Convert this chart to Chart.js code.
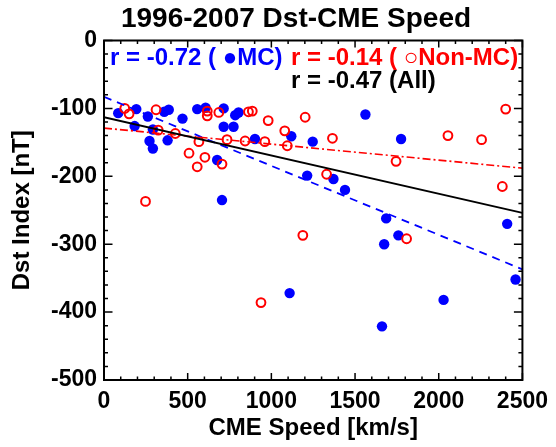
<!DOCTYPE html>
<html>
<head>
<meta charset="utf-8">
<script src="https://cdn.jsdelivr.net/npm/chart.js@4.4.1/dist/chart.umd.min.js"></script>
<style>
  body { margin: 0; background: #fff; }
  #wrap { width: 556px; height: 447px; }
</style>
</head>
<body>
<div id="wrap"><canvas id="dstChart"></canvas></div>
<script>
// MC events (filled blue)
const mcSpeed = [85, 193, 183, 262, 292, 272, 292, 360, 387, 380, 469, 557, 607, 715, 715, 774, 784, 804,
  676, 705, 902, 1119, 1247, 1214, 1562, 1775, 1371, 1440, 1109, 1686, 1759, 1674, 2409, 2459, 2029, 1661];
const mcDst = [-107, -101, -126, -112, -131, -148, -159, -105, -102, -147, -115, -101, -99, -100, -127, -127, -110, -106,
  -176, -235, -145, -141, -149, -199, -109, -145, -204, -220, -372, -262, -287, -300, -270, -352, -382, -421];

// Non-MC events (open red)
const nonMcSpeed = [124, 150, 311, 324, 426, 508, 557, 603, 567, 617, 617, 686, 705, 735, 843, 863, 886, 961,
  981, 1080, 1095, 1202, 1330, 248, 1365, 1745, 2055, 2256, 2400, 2380, 1188, 938, 1808];
const nonMcDst = [-100, -108, -102, -132, -137, -166, -186, -172, -149, -104, -111, -106, -182, -146, -148, -105, -104, -149,
  -118, -133, -155, -113, -197, -237, -144, -178, -140, -146, -101, -215, -287, -386, -292];

// linear fits (value at speed 0 and 2500)
const fitSpeed = [0, 2500];
const mcFit = [-83, -337];
const nonMcFit = [-129, -188];
const allFit = [-113, -254];

const xTicks = [0, 500, 1000, 1500, 2000, 2500];
const yTicks = [0, -100, -200, -300, -400, -500];

const FONT = "'Liberation Sans', Arial, Helvetica, sans-serif";

function pts(xs, ys) {
  return xs.map((x, i) => ({ x: x, y: ys[i] }));
}

// title, frame, inward ticks and the r-value labels
const framePlugin = {
  id: 'frame',
  afterDraw(chart) {
    const ctx = chart.ctx;
    const a = chart.chartArea;
    const xs = chart.scales.x, ys = chart.scales.y;
    ctx.save();
    ctx.strokeStyle = '#000';
    ctx.lineWidth = 1.5;
    ctx.beginPath();
    for (let v = 0; v <= 2500; v += 100) {
      const px = xs.getPixelForValue(v);
      const len = v % 500 === 0 ? 7 : 3.5;
      ctx.moveTo(px, a.bottom); ctx.lineTo(px, a.bottom - len);
      ctx.moveTo(px, a.top); ctx.lineTo(px, a.top + len);
    }
    for (let v = -500; v <= 0; v += 20) {
      const py = ys.getPixelForValue(v);
      const len = v % 100 === 0 ? 8.5 : 4;
      ctx.moveTo(a.left, py); ctx.lineTo(a.left + len, py);
      ctx.moveTo(a.right, py); ctx.lineTo(a.right - len, py);
    }
    ctx.stroke();
    ctx.lineWidth = 2;
    ctx.strokeRect(a.left, a.top, a.right - a.left, a.bottom - a.top);

    ctx.fillStyle = '#000';
    ctx.textAlign = 'center';
    ctx.textBaseline = 'middle';
    ctx.font = 'bold 28px ' + FONT;
    ctx.fillText('1996-2007 Dst-CME Speed', 296, 19);

    ctx.font = 'bold 24px ' + FONT;
    ctx.textAlign = 'left';
    ctx.fillStyle = '#0000ff';
    ctx.fillText('r = -0.72 ( \u25CFMC)', a.left + 6, a.top + 18);
    ctx.fillStyle = '#ff0000';
    ctx.fillText('r = -0.14 ( \u25CBNon-MC)', a.left + 187, a.top + 18);
    ctx.fillStyle = '#000';
    ctx.fillText('r = -0.47 (All)', a.left + 187, a.top + 41);
    ctx.restore();
  }
};

const ctx = document.getElementById('dstChart').getContext('2d');
new Chart(ctx, {
  type: 'scatter',
  data: {
    datasets: [
      {
        label: 'MC',
        data: pts(mcSpeed, mcDst),
        backgroundColor: '#0000ff',
        borderColor: '#0000ff',
        borderWidth: 0,
        pointRadius: 5.2,
        order: 5
      },
      {
        label: 'Non-MC',
        data: pts(nonMcSpeed, nonMcDst),
        backgroundColor: 'rgba(0,0,0,0)',
        borderColor: '#ff0000',
        borderWidth: 2,
        pointRadius: 4.4,
        order: 4
      },
      {
        type: 'line',
        label: 'MC fit',
        data: pts(fitSpeed, mcFit),
        borderColor: '#0000ff',
        borderWidth: 1.8,
        borderDash: [8, 6],
        pointRadius: 0,
        order: 3
      },
      {
        type: 'line',
        label: 'Non-MC fit',
        data: pts(fitSpeed, nonMcFit),
        borderColor: '#ff0000',
        borderWidth: 1.6,
        borderDash: [8, 3, 2, 3],
        pointRadius: 0,
        order: 2
      },
      {
        type: 'line',
        label: 'All fit',
        data: pts(fitSpeed, allFit),
        borderColor: '#000000',
        borderWidth: 1.8,
        pointRadius: 0,
        order: 1
      }
    ]
  },
  options: {
    responsive: true,
    maintainAspectRatio: false,
    animation: false,
    layout: { padding: { left: 0, right: 29, top: 40.5, bottom: 0 } },
    plugins: {
      legend: { display: false },
      tooltip: { enabled: false },
      title: { display: false }
    },
    scales: {
      x: {
        type: 'linear',
        min: 0,
        max: 2500,
        afterBuildTicks: s => { s.ticks = xTicks.map(v => ({ value: v })); },
        afterFit: s => { s.height = 67; },
        grid: { display: false, drawTicks: false },
        border: { display: false },
        ticks: {
          color: '#000',
          padding: 8,
          maxRotation: 0,
          callback: v => String(v),
          font: { family: FONT, size: 23, weight: 'bold' }
        },
        title: {
          display: true,
          text: 'CME Speed [km/s]',
          color: '#000',
          font: { family: FONT, size: 24, weight: 'bold' },
          padding: { top: 0, bottom: 4 }
        }
      },
      y: {
        type: 'linear',
        min: -500,
        max: 0,
        afterBuildTicks: s => { s.ticks = yTicks.map(v => ({ value: v })); },
        afterFit: s => { s.width = 104; },
        grid: { display: false, drawTicks: false },
        border: { display: false },
        ticks: {
          color: '#000',
          padding: 7,
          callback: v => String(v),
          font: { family: FONT, size: 23, weight: 'bold' }
        },
        title: {
          display: true,
          text: 'Dst Index [nT]',
          color: '#000',
          font: { family: FONT, size: 24, weight: 'bold' },
          padding: { top: 8, bottom: 0 }
        }
      }
    }
  },
  plugins: [framePlugin]
});
</script>
</body>
</html>
